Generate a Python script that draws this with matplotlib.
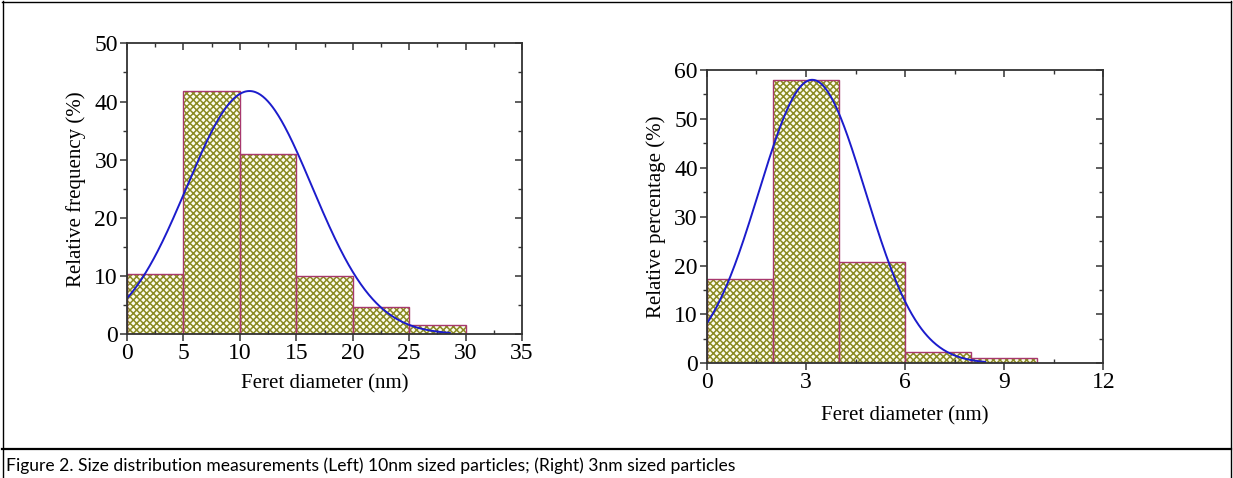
"""Size distribution histograms (10 nm and 3 nm particles) with Gaussian fits."""
import matplotlib
matplotlib.use("Agg")
import matplotlib.pyplot as plt
import numpy as np
from matplotlib.lines import Line2D
from matplotlib.ticker import MultipleLocator

# Left panel: 10 nm particles
left_edges = [0, 5, 10, 15, 20, 25]
left_width = 5
left_values = [10.4, 41.8, 30.9, 10.1, 4.7, 1.6]
left_fit = {"center": 10.85, "sigma": 5.55, "amp": 41.8, "x_end": 28.6}

# Right panel: 3 nm particles
right_edges = [0, 2, 4, 6, 8]
right_width = 2
right_values = [17.3, 58.0, 20.8, 2.3, 1.1]
right_fit = {"center": 3.19, "sigma": 1.61, "amp": 58.0, "x_end": 8.42}

caption = ("Figure 2. Size distribution measurements (Left) 10nm sized particles; "
           "(Right) 3nm sized particles")

SERIF = "Liberation Serif"
HATCH_COL = "#8a8a22"
EDGE_COL = "#a8386e"
CURVE_COL = "#1c1ccc"
SPINE_COL = "#333333"

plt.rcParams["hatch.linewidth"] = 1.1


def panel(fig, rect, edges, width, values, fit, xlim, ylim, xmaj, xmin, ymaj, ymin,
          ylabel, xlabel_pad):
    ax = fig.add_axes(rect)
    # hatch layer (hatch takes the edge colour), then the outline on top
    ax.bar(edges, values, width=width, align="edge", facecolor="#fdfdf0",
           edgecolor=HATCH_COL, linewidth=0, hatch="xxxxx")
    ax.bar(edges, values, width=width, align="edge", fill=False,
           edgecolor=EDGE_COL, linewidth=1.0)
    xs = np.linspace(xlim[0], fit["x_end"], 400)
    ys = fit["amp"] * np.exp(-(xs - fit["center"]) ** 2 / (2 * fit["sigma"] ** 2))
    ax.plot(xs, ys, color=CURVE_COL, linewidth=1.4)

    ax.set_xlim(*xlim)
    ax.set_ylim(*ylim)
    ax.xaxis.set_major_locator(MultipleLocator(xmaj))
    ax.xaxis.set_minor_locator(MultipleLocator(xmin))
    ax.yaxis.set_major_locator(MultipleLocator(ymaj))
    ax.yaxis.set_minor_locator(MultipleLocator(ymin))
    for s in ax.spines.values():
        s.set_color(SPINE_COL)
        s.set_linewidth(1.3)
    ax.tick_params(which="major", direction="out", length=5, width=1.1,
                   color=SPINE_COL, labelsize=17, pad=1.5)
    ax.tick_params(axis="x", which="minor", direction="in", length=3, width=1.0,
                   color=SPINE_COL)
    ax.tick_params(axis="y", which="minor", direction="out", length=3, width=1.0,
                   color=SPINE_COL)
    for lab in ax.get_xticklabels() + ax.get_yticklabels():
        lab.set_fontfamily(SERIF)

    # top and right ticks point inward, without labels
    top = ax.secondary_xaxis("top")
    top.xaxis.set_major_locator(MultipleLocator(xmaj))
    top.xaxis.set_minor_locator(MultipleLocator(xmin))
    top.tick_params(which="major", direction="in", length=5, width=1.1,
                    color=SPINE_COL, labeltop=False)
    top.tick_params(which="minor", direction="in", length=3, width=1.0,
                    color=SPINE_COL)
    top.spines["top"].set_visible(False)
    right = ax.secondary_yaxis("right")
    right.yaxis.set_major_locator(MultipleLocator(ymaj))
    right.yaxis.set_minor_locator(MultipleLocator(ymin))
    right.tick_params(which="major", direction="in", length=5, width=1.1,
                      color=SPINE_COL, labelright=False)
    right.tick_params(which="minor", direction="in", length=3, width=1.0,
                      color=SPINE_COL)
    right.spines["right"].set_visible(False)

    ax.set_ylabel(ylabel, fontfamily=SERIF, fontsize=15, labelpad=6)
    ax.set_xlabel("Feret diameter (nm)", fontfamily=SERIF, fontsize=15,
                  labelpad=xlabel_pad)
    return ax


fig = plt.figure(figsize=(12.33, 4.78), dpi=100)

panel(fig, [0.1030, 0.3006, 0.3204, 0.6088], left_edges, left_width, left_values,
      left_fit, (0, 35), (0, 50), 5, 2.5, 10, 5, "Relative frequency (%)", 7)
panel(fig, [0.5732, 0.2399, 0.3217, 0.6136], right_edges, right_width, right_values,
      right_fit, (0, 12), (0, 60), 3, 1.5, 10, 5, "Relative percentage (%)", 9)

# table-cell style frame around figure and caption
W, H = 1233.0, 478.0


def hline(y, x0=2, x1=1231, lw=1.0):
    fig.add_artist(Line2D([x0 / W, x1 / W], [1 - y / H, 1 - y / H],
                          color="black", linewidth=lw))


def vline(x, y0=1, y1=478, lw=1.0):
    fig.add_artist(Line2D([x / W, x / W], [1 - y0 / H, 1 - y1 / H],
                          color="black", linewidth=lw))


hline(1.5)
hline(449, lw=1.6)
vline(2.5)
vline(1231)

fig.text(6 / W, 1 - 466 / H, caption, fontfamily="Lato", fontsize=12.6,
         ha="left", va="center")

fig.savefig("out.png", dpi=100)
